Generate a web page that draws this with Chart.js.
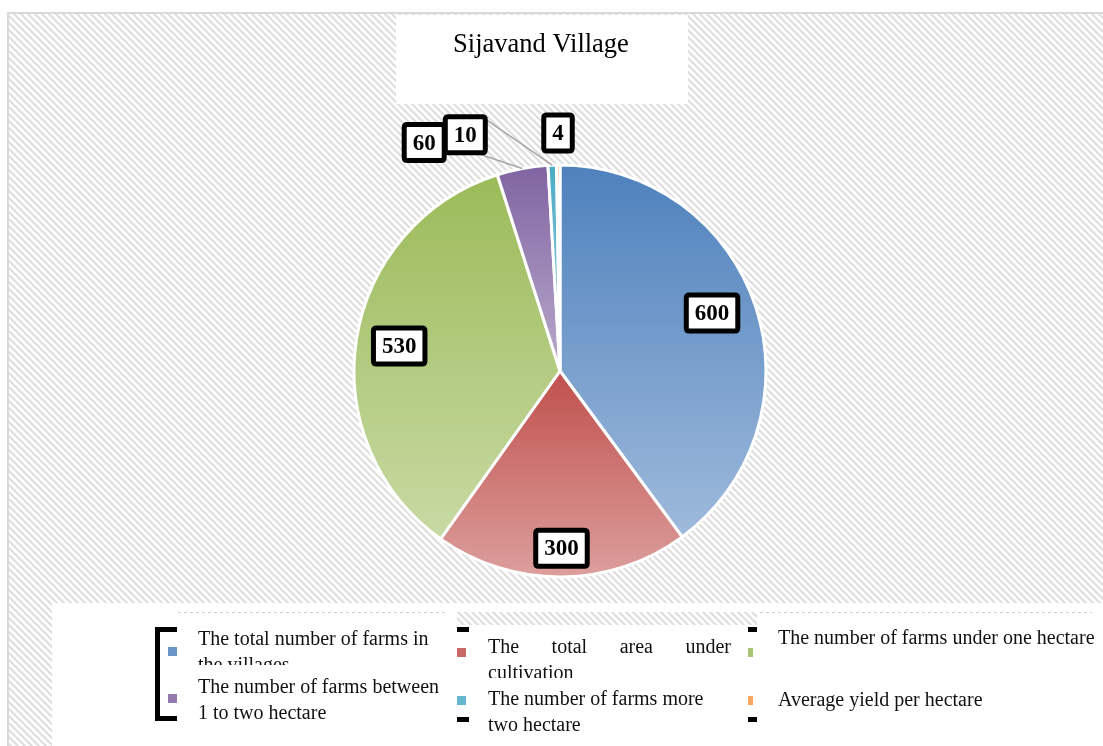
<!DOCTYPE html>
<html>
<head>
<meta charset="utf-8">
<title>Sijavand Village</title>
<script src="https://cdn.jsdelivr.net/npm/chart.js@4.4.1/dist/chart.umd.min.js"></script>
<style>
    body { margin: 0; background: #ffffff; }
    #wrap { width: 1103px; height: 746px; }
</style>
</head>
<body>
<div id="wrap"><canvas id="pieChart" width="1103" height="746"></canvas></div>
<script>
// ################ data ################
const chartTitle = "Sijavand Village";
const categories = [
    ["The total number of farms in", "the villages"],
    ["The total area under", "cultivation"],
    ["The number of farms under one hectare"],
    ["The number of farms between", "1 to two hectare"],
    ["The number of farms more", "two hectare"],
    ["Average yield per hectare"],
];
const values = [600, 300, 530, 60, 10, 4];
const baseColors = ["#4f81bd", "#c0504d", "#9bbb59", "#8064a2", "#4bacc6", "#f79646"];

const PIE_RADIUS = 206;
const SERIF = "'Liberation Serif', 'Times New Roman', serif";

// mix a hex colour with white
function lighten(hex, amt) {
    const n = parseInt(hex.slice(1), 16);
    const r = (n >> 16) & 255, g = (n >> 8) & 255, b = n & 255;
    const f = (c) => Math.round(c + (255 - c) * amt);
    return "rgb(" + f(r) + "," + f(g) + "," + f(b) + ")";
}

// vertical gradient over the bounding box of each slice (dark top, light bottom)
function sliceGradient(context) {
    const chart = context.chart;
    const area = chart.chartArea;
    const i = context.dataIndex;
    const base = baseColors[i];
    if (!area) return base;
    const cx = (area.left + area.right) / 2;
    const cy = (area.top + area.bottom) / 2;
    const total = values.reduce((a, b) => a + b, 0);
    let before = 0;
    for (let k = 0; k < i; k++) before += values[k];
    const a0 = -Math.PI / 2 + (before / total) * 2 * Math.PI;
    const a1 = a0 + (values[i] / total) * 2 * Math.PI;
    const ys = [cy, cy + PIE_RADIUS * Math.sin(a0), cy + PIE_RADIUS * Math.sin(a1)];
    [-Math.PI / 2, Math.PI / 2, (3 * Math.PI) / 2].forEach((a) => {
        if (a >= a0 && a <= a1) ys.push(cy + PIE_RADIUS * Math.sin(a));
    });
    const yMin = Math.min(...ys);
    const yMax = Math.max(...ys);
    const g = chart.ctx.createLinearGradient(0, yMin, 0, yMax + 1);
    g.addColorStop(0, base);
    g.addColorStop(1, lighten(base, 0.45));
    return g;
}

// hatch pattern for the chart background
function makeHatch(ctx) {
    const p = document.createElement("canvas");
    p.width = 7;
    p.height = 7;
    const pc = p.getContext("2d");
    pc.fillStyle = "#ffffff";
    pc.fillRect(0, 0, 7, 7);
    pc.strokeStyle = "#dedede";
    pc.lineWidth = 2.2;
    pc.beginPath();
    pc.moveTo(-1, -1); pc.lineTo(8, 8);
    pc.moveTo(-1, 6); pc.lineTo(1, 8);
    pc.moveTo(6, -1); pc.lineTo(8, 1);
    pc.stroke();
    return ctx.createPattern(p, "repeat");
}

function roundBox(ctx, x, y, w, h, r) {
    ctx.beginPath();
    ctx.moveTo(x + r, y);
    ctx.lineTo(x + w - r, y);
    ctx.quadraticCurveTo(x + w, y, x + w, y + r);
    ctx.lineTo(x + w, y + h - r);
    ctx.quadraticCurveTo(x + w, y + h, x + w - r, y + h);
    ctx.lineTo(x + r, y + h);
    ctx.quadraticCurveTo(x, y + h, x, y + h - r);
    ctx.lineTo(x, y + r);
    ctx.quadraticCurveTo(x, y, x + r, y);
    ctx.closePath();
}

// ################ background, title box, legend ################
const backdropPlugin = {
    id: "backdrop",
    beforeDraw(chart) {
        const ctx = chart.ctx;
        const W = chart.width, H = chart.height;
        ctx.save();
        ctx.fillStyle = "#ffffff";
        ctx.fillRect(0, 0, W, H);
        ctx.fillStyle = makeHatch(ctx);
        ctx.fillRect(8, 13, W - 8, H - 13);
        ctx.strokeStyle = "#d9d9d9";
        ctx.lineWidth = 2;
        ctx.beginPath();
        ctx.moveTo(8, H);
        ctx.lineTo(8, 13);
        ctx.lineTo(W, 13);
        ctx.stroke();

        // title box
        ctx.fillStyle = "#ffffff";
        ctx.fillRect(396, 15, 292, 89);
        ctx.fillStyle = "#000000";
        ctx.font = "26.5px " + SERIF;
        ctx.textAlign = "center";
        ctx.textBaseline = "alphabetic";
        ctx.fillText(chartTitle, 541, 52);

        // legend box
        ctx.fillStyle = "#ffffff";
        ctx.fillRect(52, 603, W - 52, H - 603);
        ctx.fillStyle = makeHatch(ctx);
        ctx.fillRect(457, 612, 300, 13);
        ctx.strokeStyle = "#cfcfcf";
        ctx.lineWidth = 1;
        ctx.setLineDash([3, 3]);
        ctx.beginPath();
        ctx.moveTo(178, 612.5); ctx.lineTo(448, 612.5);
        ctx.moveTo(760, 612.5); ctx.lineTo(1092, 612.5);
        ctx.stroke();
        ctx.setLineDash([]);

        // odd black marks round the legend columns
        ctx.strokeStyle = "#000000";
        ctx.lineWidth = 5;
        ctx.beginPath();
        ctx.moveTo(177, 629.5); ctx.lineTo(157.5, 629.5);
        ctx.lineTo(157.5, 718.5); ctx.lineTo(177, 718.5);
        ctx.stroke();
        ctx.fillStyle = "#000000";
        ctx.fillRect(457, 627, 12, 5);
        ctx.fillRect(457, 717, 12, 5);
        ctx.fillRect(748, 627, 9, 5);
        ctx.fillRect(748, 717, 9, 5);

        // legend items
        const cols = [
            { mx: 168, mw: 9, tx: 198 },
            { mx: 457, mw: 9, tx: 488 },
            { mx: 748, mw: 5, tx: 778 },
        ];
        const rows = [
            { base: [645, 653, 644], my: [651, 652, 652], clip: [665, 678, 700] },
            { base: [693, 705, 706], my: [698, 700, 700], clip: [746, 746, 746] },
        ];
        const justifyWidth = { 1: 243 };
        ctx.font = "20px " + SERIF;
        ctx.textAlign = "left";
        categories.forEach((lines, i) => {
            const c = i % 3, r = Math.floor(i / 3);
            const col = cols[c], row = rows[r];
            ctx.fillStyle = lighten(baseColors[i], 0.15);
            ctx.fillRect(col.mx, row.my[c] - 4, col.mw, 9);
            ctx.save();
            ctx.beginPath();
            ctx.rect(col.tx - 5, row.base[c] - 25, 340, row.clip[c] - row.base[c] + 25);
            ctx.clip();
            ctx.fillStyle = "#111111";
            lines.forEach((line, li) => {
                const y = row.base[c] + li * 26;
                if (justifyWidth[i] && li < lines.length - 1) {
                    const words = line.split(" ");
                    const wordsW = words.reduce((s, w) => s + ctx.measureText(w).width, 0);
                    const gap = (justifyWidth[i] - wordsW) / (words.length - 1);
                    let x = col.tx;
                    words.forEach((w) => {
                        ctx.fillText(w, x, y);
                        x += ctx.measureText(w).width + gap;
                    });
                } else {
                    ctx.fillText(line, col.tx, y);
                }
            });
            ctx.restore();
        });
        ctx.restore();
    },
};

// ################ boxed value labels ################
const labelRadius = [0.79, 0.86, 0.79, 1.29, 1.235, 1.155];
const labelShift = [-2.7, 0, 0, -20.2, -19.7, 0];

const valueLabelPlugin = {
    id: "valueLabels",
    afterDatasetsDraw(chart) {
        const ctx = chart.ctx;
        const meta = chart.getDatasetMeta(0);
        ctx.save();
        ctx.font = "bold 23px " + SERIF;
        const boxes = meta.data.map((arc, i) => {
            const mid = (arc.startAngle + arc.endAngle) / 2;
            const a = mid + (labelShift[i] * Math.PI) / 180;
            const rr = arc.outerRadius * labelRadius[i];
            const x = arc.x + rr * Math.cos(a);
            const y = arc.y + rr * Math.sin(a);
            const text = String(values[i]);
            const w = ctx.measureText(text).width + 22;
            const h = 41;
            return {
                x, y, text, w, h, mid, arc,
                left: x - w / 2, top: y - h / 2,
            };
        });

        // leader lines for the small outside slices
        ctx.strokeStyle = "#a6a6a6";
        ctx.lineWidth = 1.5;
        [3, 4].forEach((i) => {
            const b = boxes[i];
            const ex = b.arc.x + b.arc.outerRadius * Math.cos(b.mid);
            const ey = b.arc.y + b.arc.outerRadius * Math.sin(b.mid);
            const sy = i === 4 ? b.top + 5 : b.y;
            ctx.beginPath();
            ctx.moveTo(b.left + b.w - 2, sy);
            ctx.lineTo(ex, ey);
            ctx.stroke();
        });

        boxes.forEach((b) => {
            roundBox(ctx, b.left + 2.5, b.top + 2.5, b.w - 5, b.h - 5, 3);
            ctx.fillStyle = "#ffffff";
            ctx.fill();
            ctx.strokeStyle = "#000000";
            ctx.lineWidth = 5;
            ctx.stroke();
            ctx.fillStyle = "#000000";
            ctx.textAlign = "center";
            ctx.textBaseline = "middle";
            ctx.fillText(b.text, b.x, b.y + 1);
        });
        ctx.restore();
    },
};

// ################ chart ################
const pieCtx = document.getElementById("pieChart").getContext("2d");
const pieChart = new Chart(pieCtx, {
    type: "pie",
    data: {
        labels: categories,
        datasets: [
            {
                data: values,
                backgroundColor: sliceGradient,
                borderColor: "#ffffff",
                borderWidth: 3,
            },
        ],
    },
    options: {
        responsive: false,
        animation: false,
        radius: PIE_RADIUS,
        layout: {
            padding: { left: 167, right: 150, top: 150, bottom: 154 },
        },
        plugins: {
            legend: { display: false },
            title: { display: false },
            tooltip: { enabled: false },
        },
    },
    plugins: [backdropPlugin, valueLabelPlugin],
});
</script>
</body>
</html>
